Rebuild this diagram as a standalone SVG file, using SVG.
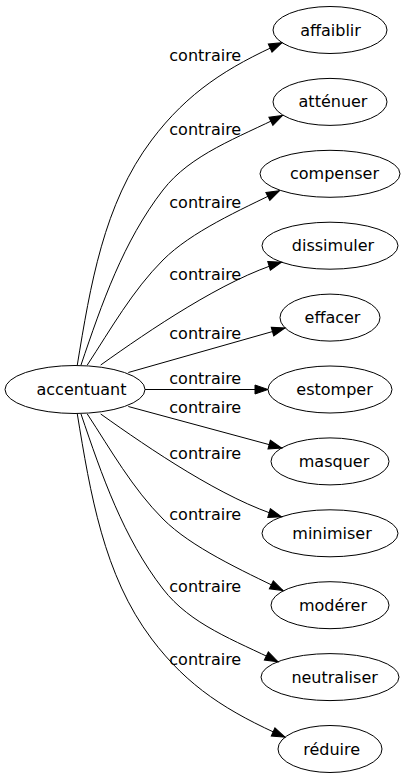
<svg xmlns="http://www.w3.org/2000/svg" width="405" height="779" viewBox="0 0 405 779">
<style>
  .node ellipse { fill: none; stroke: #000; stroke-width: 1; }
  .node text { font-family: "DejaVu Sans", sans-serif; font-size: 16px; fill: #000; text-anchor: middle; }
  .edges path { fill: none; stroke: #000; stroke-width: 1; marker-end: url(#arrow); }
  .edges text { font-family: "DejaVu Sans", sans-serif; font-size: 16px; fill: #000; }
</style>
<defs>
  <marker id="arrow" markerUnits="userSpaceOnUse" markerWidth="14" markerHeight="10" refX="13" refY="4.5" orient="auto" overflow="visible">
    <path d="M0,0 L13,4.5 L0,9 Z" fill="#000" stroke="#000" stroke-width="1"/>
  </marker>
</defs>
<rect width="405" height="779" fill="#fff"/>
<g class="edges" id="edges">
  <path d="M77.3,365 C90.3,286 103.5,203.8 151.7,140 C187.8,92.1 227.3,67.3 282,42.7"/>
  <text x="169.3" y="60.5">contraire</text>
  <path d="M81,365 C101.9,303.4 123.2,241.4 163,190 C190.5,154.4 237.8,137.8 282.5,115.5"/>
  <text x="169.3" y="135">contraire</text>
  <path d="M87.3,365 C110.9,329 132.6,290.4 163,260 C191.3,231.7 239.1,210.5 279.5,190.7"/>
  <text x="169.3" y="208">contraire</text>
  <path d="M100.7,365 C149.6,330.2 224,279.4 281.5,262.2"/>
  <text x="169.3" y="280">contraire</text>
  <path d="M128.3,372.5 L285,328"/>
  <text x="169.3" y="339">contraire</text>
  <path d="M145,389.5 L268,389.5"/>
  <text x="169.3" y="384">contraire</text>
  <path d="M128.3,406.5 L281.7,448"/>
  <text x="169.3" y="413">contraire</text>
  <path d="M100.7,414 C149.6,448.8 224,499.6 281.5,516.8"/>
  <text x="169.3" y="459">contraire</text>
  <path d="M87.3,414 C110.9,450 132.6,488.6 163,519 C191.3,547.3 241,570 283,590.5"/>
  <text x="169.3" y="520">contraire</text>
  <path d="M81,414 C101.9,475.6 123.2,537.6 163,589 C190.5,624.6 234,640 278,661.7"/>
  <text x="169.3" y="592">contraire</text>
  <path d="M77.3,414 C90.3,493 103.5,575.2 151.7,639 C187.8,686.9 228,712 285,737.2"/>
  <text x="169.3" y="665">contraire</text>
</g>
<g class="node" id="accentuant">
  <ellipse cx="75" cy="389.5" rx="70" ry="24"/>
  <text x="81.5" y="395">accentuant</text>
</g>
<g class="node" id="affaiblir">
  <ellipse cx="330" cy="30" rx="57" ry="23.5"/>
  <text x="330.5" y="35.5">affaiblir</text>
</g>
<g class="node" id="attenuer">
  <ellipse cx="330" cy="101.9" rx="57" ry="23.5"/>
  <text x="333" y="107.4">atténuer</text>
</g>
<g class="node" id="compenser">
  <ellipse cx="330" cy="173.8" rx="70" ry="23.5"/>
  <text x="334.5" y="179.3">compenser</text>
</g>
<g class="node" id="dissimuler">
  <ellipse cx="330" cy="245.7" rx="68" ry="23.5"/>
  <text x="333" y="251.2">dissimuler</text>
</g>
<g class="node" id="effacer">
  <ellipse cx="330" cy="317.6" rx="50" ry="23.5"/>
  <text x="332.5" y="323.1">effacer</text>
</g>
<g class="node" id="estomper">
  <ellipse cx="330" cy="389.5" rx="62" ry="23.5"/>
  <text x="334.5" y="395">estomper</text>
</g>
<g class="node" id="masquer">
  <ellipse cx="330" cy="461.4" rx="59" ry="23.5"/>
  <text x="334" y="466.9">masquer</text>
</g>
<g class="node" id="minimiser">
  <ellipse cx="330" cy="533.3" rx="68" ry="23.5"/>
  <text x="332" y="538.8">minimiser</text>
</g>
<g class="node" id="moderer">
  <ellipse cx="330" cy="605.2" rx="59" ry="23.5"/>
  <text x="333" y="610.7">modérer</text>
</g>
<g class="node" id="neutraliser">
  <ellipse cx="330" cy="677.1" rx="69" ry="23.5"/>
  <text x="334.6" y="682.6">neutraliser</text>
</g>
<g class="node" id="reduire">
  <ellipse cx="330" cy="749" rx="52" ry="23.5"/>
  <text x="331.7" y="754.5">réduire</text>
</g>
</svg>
